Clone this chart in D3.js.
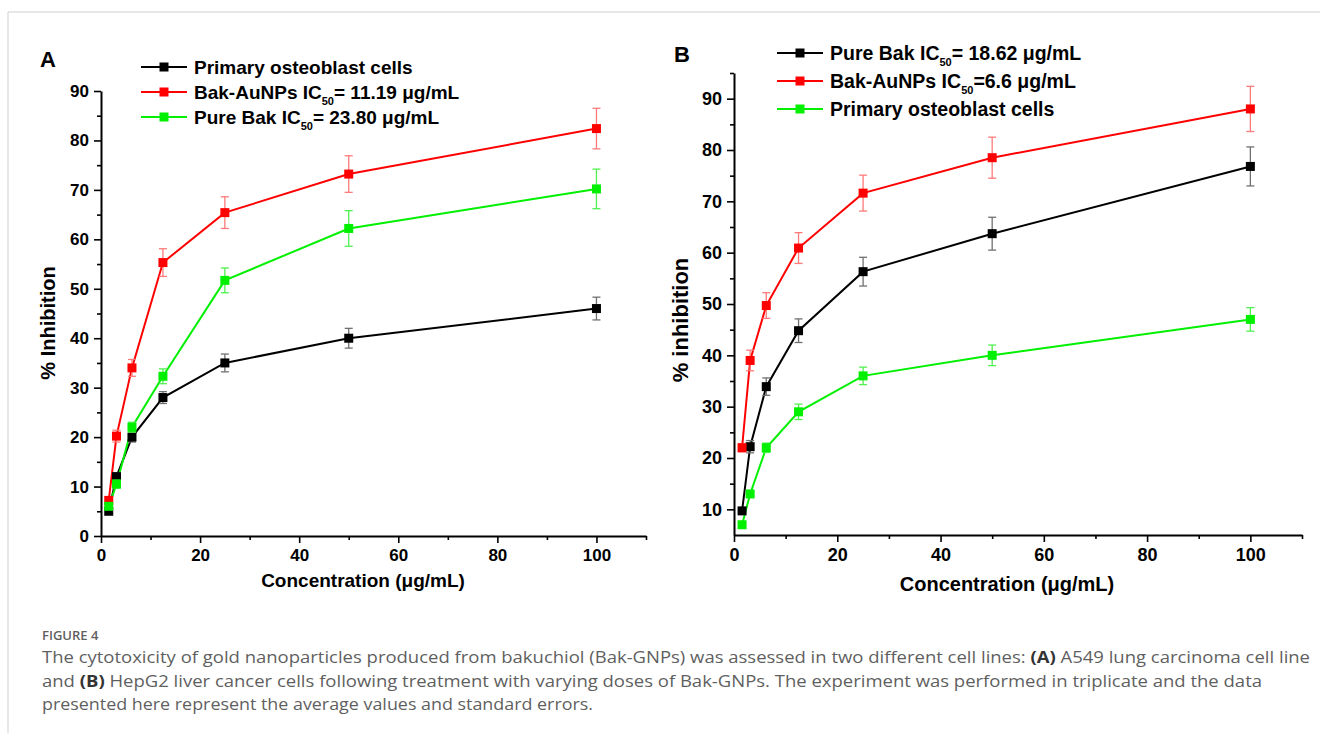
<!DOCTYPE html>
<meta charset="utf-8">
<head>
  <script src="https://d3js.org/d3.v7.min.js"></script>
  <style>
    body { margin: 0; background: #fff; }
    text { font-family: "Liberation Sans", Arial, sans-serif; }
    .cap { font-family: "Open Sans", "Noto Sans", sans-serif; fill: #5f5f5f; }
  </style>
</head>
<body>
<svg width="1320" height="733"></svg>
<script>
// concentrations (ug/mL)
var conc = [1.5625, 3.125, 6.25, 12.5, 25, 50, 100];

// panel A - A549
var aOsteo    = [5, 12, 20, 28, 35, 40, 46];
var aOsteoErr = [0.6, 0.8, 1.0, 1.2, 1.8, 2.0, 2.3];
var aAuNP     = [7.2, 20.2, 34, 55.3, 65.4, 73.2, 82.4];
var aAuNPErr  = [0.6, 1.2, 1.7, 2.8, 3.2, 3.7, 4.1];
var aPure     = [6, 10.5, 22, 32.3, 51.7, 62.2, 70.2];
var aPureErr  = [0.6, 0.8, 1.0, 1.5, 2.5, 3.6, 4.0];

// panel B - HepG2
var bPure     = [9.7, 22.2, 33.9, 44.8, 56.3, 63.7, 76.8];
var bPureErr  = [0.5, 1.2, 1.7, 2.3, 2.8, 3.2, 3.8];
var bAuNP     = [22, 39, 49.7, 60.9, 71.6, 78.5, 88];
var bAuNPErr  = [0.8, 2.0, 2.5, 3.0, 3.5, 4.0, 4.4];
var bOsteo    = [7, 13, 22, 29, 36, 40, 47];
var bOsteoErr = [0.3, 0.5, 0.9, 1.5, 1.7, 2.0, 2.3];

var xMajor = [0, 20, 40, 60, 80, 100];
var xMinor = [10, 30, 50, 70, 90, 110];
var aYMajor = [0, 10, 20, 30, 40, 50, 60, 70, 80, 90];
var aYMinor = [5, 15, 25, 35, 45, 55, 65, 75, 85];
var bYMajor = [10, 20, 30, 40, 50, 60, 70, 80, 90];
var bYMinor = [15, 25, 35, 45, 55, 65, 75, 85, 95];

var legendA = [["Primary osteoblast cells", "", ""], ["Bak-AuNPs IC", "50", "= 11.19 \u03bcg/mL"], ["Pure Bak IC", "50", "= 23.80 \u03bcg/mL"]];
var legendB = [["Pure Bak IC", "50", "= 18.62 \u03bcg/mL"], ["Bak-AuNPs IC", "50", "=6.6 \u03bcg/mL"], ["Primary osteoblast cells", "", ""]];

var colors = {black: "#000000", red: "#ff0000", green: "#00f000"};
var errColors = {black: "#707070", red: "#ff7a7a", green: "#50f050"};

var svg = d3.select("svg");

// frame lines
svg.append("line").attr("x1", 8).attr("x2", 1320).attr("y1", 12).attr("y2", 12).attr("stroke", "#cfcfcf");
svg.append("line").attr("x1", 8).attr("x2", 8).attr("y1", 12).attr("y2", 733).attr("stroke", "#cfcfcf");

function drawPanel(p) {
  var g = svg.append("g");
  var x = d3.scaleLinear().domain([0, 110]).range([p.left, p.right]);
  var y = d3.scaleLinear().domain(p.yDomain).range([p.bottom, p.top]);

  // axes
  g.append("g").attr("transform", "translate(0," + p.bottom + ")")
    .call(d3.axisBottom(x).tickValues(xMajor).tickSize(7).tickSizeOuter(0).tickPadding(6));
  g.append("g").attr("transform", "translate(0," + p.bottom + ")")
    .call(d3.axisBottom(x).tickValues(xMinor).tickSize(4).tickSizeOuter(0).tickFormat(""))
    .select(".domain").remove();
  g.append("g").attr("transform", "translate(" + p.left + ",0)")
    .call(d3.axisLeft(y).tickValues(p.yMajor).tickSize(7).tickSizeOuter(0).tickPadding(5));
  g.append("g").attr("transform", "translate(" + p.left + ",0)")
    .call(d3.axisLeft(y).tickValues(p.yMinor).tickSize(4).tickSizeOuter(0).tickFormat(""))
    .select(".domain").remove();
  g.selectAll(".domain").attr("stroke-width", 2);
  g.selectAll(".tick line").attr("stroke-width", 1.6);
  g.selectAll(".tick text").attr("font-size", p.tickFont).attr("font-weight", "bold")
    .attr("font-family", "'Liberation Sans', Arial, sans-serif").attr("fill", "#000");

  // axis titles
  g.append("text").attr("x", p.xTitleX).attr("y", p.xTitleY).attr("text-anchor", "middle")
    .attr("font-size", p.titleFont).attr("font-weight", "bold").text("Concentration (\u03bcg/mL)");
  g.append("text").attr("transform", "translate(" + p.yTitleX + "," + p.yTitleY + ") rotate(-90)")
    .attr("text-anchor", "middle").attr("font-size", p.yTitleFont).attr("font-weight", "bold").text(p.yTitle);

  // panel letter
  g.append("text").attr("x", p.letterX).attr("y", p.letterY).attr("font-size", 22)
    .attr("font-weight", "bold").text(p.letter);

  var line = d3.line().x(function(d) { return x(d[0]); }).y(function(d) { return y(d[1]); });

  p.series.forEach(function(s) {
    var pts = conc.map(function(c, i) { return [c, s.vals[i], s.err[i]]; });
    g.append("path").datum(pts).attr("d", line).attr("fill", "none")
      .attr("stroke", colors[s.color]).attr("stroke-width", 2);
  });
  p.series.forEach(function(s) {
    var pts = conc.map(function(c, i) { return [c, s.vals[i], s.err[i]]; });
    var eb = g.append("g").attr("stroke", errColors[s.color]).attr("stroke-width", 1.3);
    pts.forEach(function(d) {
      var cx = x(d[0]);
      eb.append("line").attr("x1", cx).attr("x2", cx).attr("y1", y(d[1] - d[2])).attr("y2", y(d[1] + d[2]));
      eb.append("line").attr("x1", cx - 4).attr("x2", cx + 4).attr("y1", y(d[1] - d[2])).attr("y2", y(d[1] - d[2]));
      eb.append("line").attr("x1", cx - 4).attr("x2", cx + 4).attr("y1", y(d[1] + d[2])).attr("y2", y(d[1] + d[2]));
    });
    g.selectAll(null).data(pts).enter().append("rect")
      .attr("x", function(d) { return x(d[0]) - 4.5; })
      .attr("y", function(d) { return y(d[1]) - 4.5; })
      .attr("width", 9).attr("height", 9).attr("fill", colors[s.color]);
  });

  // legend
  p.legend.forEach(function(l, i) {
    var ly = p.legY + i * p.legStep;
    var c = colors[p.legColors[i]];
    g.append("line").attr("x1", p.legX).attr("x2", p.legX + 46).attr("y1", ly).attr("y2", ly)
      .attr("stroke", c).attr("stroke-width", 2);
    g.append("rect").attr("x", p.legX + 23 - 4.5).attr("y", ly - 4.5).attr("width", 9).attr("height", 9).attr("fill", c);
    var t = g.append("text").attr("x", p.legX + 53).attr("y", ly + 7).attr("font-size", p.legFont).attr("font-weight", "bold");
    t.append("tspan").text(l[0]);
    if (l[1]) {
      t.append("tspan").attr("dy", 6).attr("font-size", 11).text(l[1]);
      t.append("tspan").attr("dy", -6).text(l[2]);
    }
  });
}

drawPanel({
  left: 101, right: 646, top: 91, bottom: 536, yDomain: [0, 90],
  yMajor: aYMajor, yMinor: aYMinor, tickFont: 17, titleFont: 19, yTitleFont: 20,
  xTitleX: 363, xTitleY: 587, yTitleX: 55, yTitleY: 323, yTitle: "% Inhibition",
  letter: "A", letterX: 40, letterY: 67,
  legend: legendA, legColors: ["black", "red", "green"], legX: 141, legY: 67, legStep: 25, legFont: 19,
  series: [
    {vals: aOsteo, err: aOsteoErr, color: "black"},
    {vals: aAuNP, err: aAuNPErr, color: "red"},
    {vals: aPure, err: aPureErr, color: "green"}
  ]
});

drawPanel({
  left: 734, right: 1302, top: 73, bottom: 535, yDomain: [5, 95],
  yMajor: bYMajor, yMinor: bYMinor, tickFont: 18, titleFont: 20, yTitleFont: 22,
  xTitleX: 1007, xTitleY: 591, yTitleX: 688, yTitleY: 320, yTitle: "% inhibition",
  letter: "B", letterX: 674, letterY: 62,
  legend: legendB, legColors: ["black", "red", "green"], legX: 777, legY: 53, legStep: 28, legFont: 19.5,
  series: [
    {vals: bPure, err: bPureErr, color: "black"},
    {vals: bAuNP, err: bAuNPErr, color: "red"},
    {vals: bOsteo, err: bOsteoErr, color: "green"}
  ]
});

// caption
svg.append("text").attr("class", "cap").attr("x", 42).attr("y", 640).attr("font-size", 13)
  .attr("font-weight", 600).attr("fill", "#555").text("FIGURE 4");
var capLines = [
  {w: 1268, parts: [["The cytotoxicity of gold nanoparticles produced from bakuchiol (Bak-GNPs) was assessed in two different cell lines: ", 0], ["(A)", 1], [" A549 lung carcinoma cell line", 0]]},
  {w: 1220, parts: [["and ", 0], ["(B)", 1], [" HepG2 liver cancer cells following treatment with varying doses of Bak-GNPs. The experiment was performed in triplicate and the data", 0]]},
  {w: 551, parts: [["presented here represent the average values and standard errors.", 0]]}
];
capLines.forEach(function(l, i) {
  var t = svg.append("text").attr("class", "cap").attr("x", 42).attr("y", 663 + i * 23.5)
    .attr("font-size", 16).attr("textLength", l.w).attr("lengthAdjust", "spacingAndGlyphs");
  l.parts.forEach(function(p) {
    t.append("tspan").attr("font-weight", p[1] ? "bold" : "normal").attr("fill", p[1] ? "#333" : null).text(p[0]);
  });
});
</script>
</body>
